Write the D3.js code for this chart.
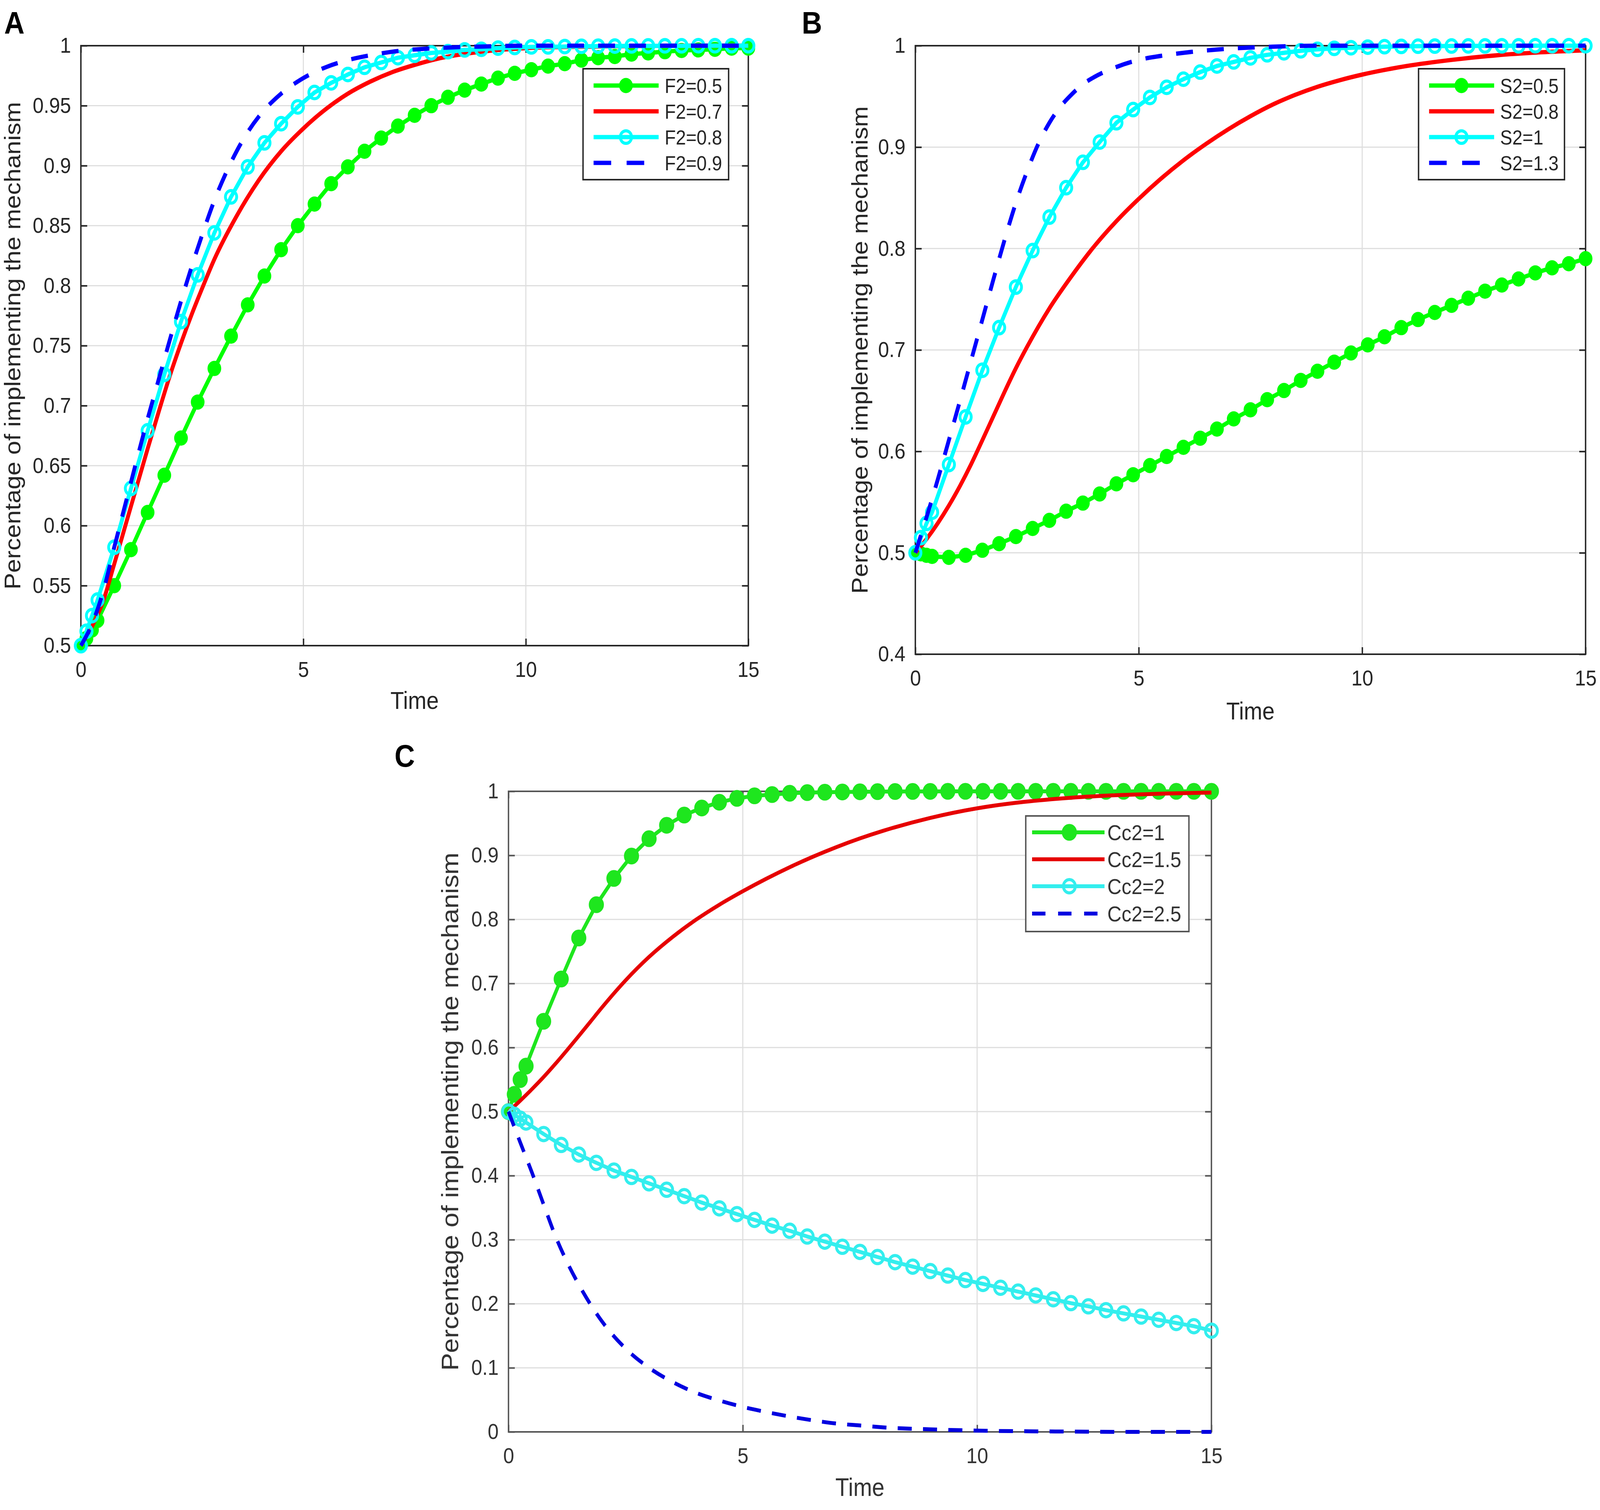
<!DOCTYPE html>
<html>
<head>
<meta charset="utf-8">
<script src="https://cdn.jsdelivr.net/npm/d3@7"></script>
<style>
  html, body { margin: 0; padding: 0; background: #fff; overflow: hidden; }
  svg { display: block; width: 100vw; height: 100vh; }
</style>
</head>
<body>
<svg id="fig" viewBox="0 0 4550 3866" preserveAspectRatio="none"></svg>
<script>
// ---- data ----
const xTicks = [0, 5, 10, 15]
const yTicksA = [0.5, 0.55, 0.6, 0.65, 0.7, 0.75, 0.8, 0.85, 0.9, 0.95, 1]
const yTicksB = [0.4, 0.5, 0.6, 0.7, 0.8, 0.9, 1]
const yTicksC = [0, 0.1, 0.2, 0.3, 0.4, 0.5, 0.6, 0.7, 0.8, 0.9, 1]

// time steps of the marker series
const tMark = [0, 0.125, 0.25, 0.375, 0.75, 1.125, 1.5, 1.875, 2.25, 2.625, 3,
  3.375, 3.75, 4.125, 4.5, 4.875, 5.25, 5.625, 6,
  6.375, 6.75, 7.125, 7.5, 7.875, 8.25, 8.625, 9,
  9.375, 9.75, 10.125, 10.5, 10.875, 11.25, 11.625, 12,
  12.375, 12.75, 13.125, 13.5, 13.875, 14.25, 14.625, 15]

// panel A
const labelsA = ['F2=0.5', 'F2=0.7', 'F2=0.8', 'F2=0.9']
const greenA = [0.5, 0.506, 0.513, 0.521, 0.55, 0.58, 0.611, 0.642, 0.673, 0.703, 0.731,
  0.758, 0.784, 0.808, 0.83, 0.85, 0.868, 0.885, 0.899,
  0.912, 0.923, 0.933, 0.942, 0.95, 0.957, 0.963, 0.968,
  0.973, 0.977, 0.98, 0.983, 0.985, 0.988, 0.99, 0.991,
  0.993, 0.994, 0.995, 0.996, 0.9965, 0.997, 0.998, 0.998]
const tRedA = [0, 0.25, 0.5, 0.75, 1, 1.25, 1.5, 1.75, 2, 2.25, 2.5, 2.75, 3,
  3.5, 4, 4.5, 5, 5.5, 6, 6.5, 7, 7.5, 8, 9, 10, 11, 12, 13.5, 15]
const redA = [0.5, 0.516, 0.537, 0.568, 0.6, 0.632, 0.664, 0.695, 0.725, 0.752, 0.777, 0.8, 0.822,
  0.858, 0.888, 0.912, 0.931, 0.947, 0.96, 0.97, 0.978, 0.984, 0.989, 0.995, 0.998, 0.999, 0.9995, 1, 1]
const cyanA = [0.5, 0.512, 0.525, 0.538, 0.582, 0.631, 0.679, 0.726, 0.77, 0.809, 0.844,
  0.874, 0.899, 0.919, 0.935, 0.949, 0.961, 0.969, 0.976,
  0.982, 0.986, 0.99, 0.992, 0.994, 0.995, 0.9965, 0.997,
  0.998, 0.9985, 0.999, 0.999, 0.9993, 0.9995, 0.9996, 0.9997,
  0.9998, 0.9998, 0.9999, 0.9999, 1, 1, 1, 1]
const tBlueA = [0, 0.25, 0.5, 0.75, 1, 1.25, 1.5, 1.75, 2, 2.25, 2.5, 2.75, 3,
  3.25, 3.5, 3.75, 4, 4.5, 5, 5.5, 6, 6.5, 7, 8, 9, 10, 15]
const blueA = [0.5, 0.518, 0.545, 0.582, 0.618, 0.654, 0.689, 0.722, 0.755, 0.787, 0.817, 0.845, 0.871,
  0.893, 0.912, 0.928, 0.941, 0.96, 0.973, 0.982, 0.988, 0.992, 0.995, 0.998, 0.9993, 1, 1]

// panel B
const labelsB = ['S2=0.5', 'S2=0.8', 'S2=1', 'S2=1.3']
const greenB = [0.5, 0.499, 0.4975, 0.4965, 0.4955, 0.4975, 0.5025, 0.509, 0.516, 0.524, 0.532,
  0.541, 0.549, 0.558, 0.568, 0.577, 0.586, 0.595, 0.604,
  0.613, 0.622, 0.632, 0.641, 0.651, 0.66, 0.67, 0.679,
  0.688, 0.697, 0.705, 0.713, 0.722, 0.73, 0.737, 0.744,
  0.751, 0.758, 0.764, 0.77, 0.776, 0.781, 0.785, 0.79]
const tRedB = [0, 0.25, 0.5, 0.75, 1, 1.25, 1.5, 1.75, 2, 2.25, 2.5,
  3, 3.5, 4, 4.5, 5, 5.5, 6, 6.5, 7, 7.5, 8,
  8.5, 9, 9.5, 10, 11, 12, 13, 14, 15]
const redB = [0.5, 0.5135, 0.529, 0.5465, 0.566, 0.5875, 0.611, 0.635, 0.659, 0.682, 0.703,
  0.741, 0.773, 0.802, 0.827, 0.849, 0.869, 0.887, 0.903, 0.9175, 0.9305, 0.942,
  0.9515, 0.9595, 0.966, 0.9715, 0.98, 0.986, 0.9905, 0.9935, 0.9955]
const cyanB = [0.5, 0.515, 0.529, 0.54, 0.587, 0.634, 0.68, 0.722, 0.762, 0.798, 0.831,
  0.86, 0.885, 0.905, 0.924, 0.937, 0.949, 0.959, 0.967,
  0.974, 0.98, 0.984, 0.988, 0.991, 0.993, 0.995, 0.9964,
  0.9974, 0.998, 0.9986, 0.999, 0.9993, 0.9995, 0.9996, 0.9997,
  0.9998, 0.9998, 0.9999, 0.9999, 1, 1, 1, 1]
const tBlueB = [0, 0.25, 0.5, 0.75, 1, 1.25, 1.5, 1.75, 2, 2.25, 2.5, 2.75, 3,
  3.25, 3.5, 3.75, 4, 4.5, 5, 5.5, 6, 7, 8, 9, 15]
const blueB = [0.5, 0.535, 0.572, 0.611, 0.65, 0.69, 0.73, 0.77, 0.809, 0.845, 0.876, 0.903, 0.924,
  0.94, 0.952, 0.962, 0.969, 0.979, 0.986, 0.99, 0.993, 0.997, 0.999, 1, 1]

// panel C
const labelsC = ['Cc2=1', 'Cc2=1.5', 'Cc2=2', 'Cc2=2.5']
const greenC = [0.5, 0.527, 0.55, 0.571, 0.641, 0.707, 0.771, 0.823, 0.864, 0.899, 0.926,
  0.947, 0.963, 0.974, 0.983, 0.989, 0.993, 0.995, 0.997,
  0.998, 0.9986, 0.999, 0.9993, 0.9995, 0.9997, 0.9998, 0.9999,
  1, 1, 1, 1, 1, 1, 1, 1,
  1, 1, 1, 1, 1, 1, 1, 1]
const tRedC = [0, 0.25, 0.5, 0.75, 1, 1.25, 1.5, 1.75, 2,
  2.5, 3, 3.5, 4, 4.5, 5, 5.5, 6, 6.5, 7, 7.5, 8,
  9, 10, 11, 12, 13, 14, 15]
const redC = [0.5, 0.517, 0.535, 0.554, 0.5745, 0.596, 0.618, 0.6405, 0.663,
  0.705, 0.7415, 0.7725, 0.7995, 0.823, 0.844, 0.8635, 0.8815, 0.898, 0.913, 0.9265, 0.9385,
  0.9585, 0.9735, 0.9835, 0.99, 0.994, 0.9965, 0.998]
const cyanC = [0.5, 0.495, 0.489, 0.483, 0.465, 0.448, 0.433, 0.42, 0.408, 0.398, 0.388,
  0.378, 0.368, 0.358, 0.349, 0.34, 0.331, 0.322, 0.314,
  0.305, 0.297, 0.289, 0.281, 0.273, 0.265, 0.258, 0.251,
  0.244, 0.237, 0.231, 0.225, 0.219, 0.213, 0.207, 0.201,
  0.196, 0.19, 0.185, 0.18, 0.175, 0.17, 0.165, 0.158]
const tBlueC = [0, 0.25, 0.5, 0.75, 1, 1.25, 1.5, 1.75, 2, 2.5, 3, 3.5, 4, 4.5, 5,
  5.5, 6, 6.5, 7, 7.5, 8, 9, 10, 11, 12, 13, 15]
const blueC = [0.5, 0.452, 0.405, 0.355, 0.306, 0.265, 0.23, 0.199, 0.172, 0.13, 0.1, 0.078, 0.061, 0.049, 0.039,
  0.031, 0.024, 0.018, 0.013, 0.01, 0.007, 0.004, 0.002, 0.001, 0.0005, 0, 0]

// ---- layout / style ----
const FONT = '"Liberation Sans", Arial, Helvetica, sans-serif'
const GREEN = '#00ff00', RED = '#ff0000', CYAN = '#00ffff', BLUE = '#0000ff'

const zip = (t, v) => t.map((d, i) => ({ t: d, v: v[i] }))

const panels = [
  {
    letter: 'A', letterX: 12, letterY: 86,
    left: 230, top: 117, right: 2128, bottom: 1653,
    yDomain: [0.5, 1], yTicks: yTicksA,
    ylabelX: 58, timeY: 1815, ylabelSize: 64, timeSize: 63,
    axisColor: '#262626', textColor: '#262626',
    lineW: 11, dotR: 18, ringR: 16,
    series: [
      { data: zip(tMark, greenA), color: GREEN, marker: 'dot' },
      { data: zip(tRedA, redA), color: RED, smooth: true },
      { data: zip(tMark, cyanA), color: CYAN, marker: 'ring' },
      { data: zip(tBlueA, blueA), color: BLUE, smooth: true, dash: '48,40' }
    ],
    labels: labelsA,
    legend: { x: 1658, y: 176, w: 414, h: 284, rows: [43, 109, 175, 241], l1: 30, l2: 215, m: 122, tx: 232, dash: '50,44', font: 52 }
  },
  {
    letter: 'B', letterX: 2280, letterY: 86,
    left: 2603, top: 117, right: 4509, bottom: 1675,
    yDomain: [0.4, 1], yTicks: yTicksB,
    ylabelX: 2467, timeY: 1842, ylabelSize: 64, timeSize: 63,
    axisColor: '#262626', textColor: '#262626',
    lineW: 11, dotR: 18, ringR: 16,
    series: [
      { data: zip(tMark, greenB), color: GREEN, marker: 'dot' },
      { data: zip(tRedB, redB), color: RED, smooth: true },
      { data: zip(tMark, cyanB), color: CYAN, marker: 'ring' },
      { data: zip(tBlueB, blueB), color: BLUE, smooth: true, dash: '48,40' }
    ],
    labels: labelsB,
    legend: { x: 4034, y: 176, w: 415, h: 284, rows: [43, 109, 175, 241], l1: 30, l2: 215, m: 122, tx: 232, dash: '50,44', font: 52 }
  },
  {
    letter: 'C', letterX: 1122, letterY: 1963,
    left: 1446, top: 2026, right: 3445, bottom: 3666,
    yDomain: [0, 1], yTicks: yTicksC,
    ylabelX: 1303, timeY: 3830, ylabelSize: 68, timeSize: 64,
    axisColor: '#555555', textColor: '#333333',
    lineW: 10, dotR: 20, ringR: 17,
    series: [
      { data: zip(tMark, greenC), color: '#1ee61e', marker: 'dot' },
      { data: zip(tRedC, redC), color: '#e60000', smooth: true },
      { data: zip(tMark, cyanC), color: '#33eeee', marker: 'ring' },
      { data: zip(tBlueC, blueC), color: '#0000e0', smooth: true, dash: '40,32' }
    ],
    labels: labelsC,
    legend: { x: 2917, y: 2089, w: 464, h: 296, rows: [42, 111, 180, 250], l1: 18, l2: 224, m: 124, tx: 232, dash: '38,36', font: 56 }
  }
]

const svg = d3.select('#fig')

function drawMarker (sel, kind, color, p) {
  sel.attr('r', kind === 'dot' ? p.dotR : p.ringR)
    .attr('fill', kind === 'dot' ? color : 'none')
    .attr('stroke', color)
    .attr('stroke-width', kind === 'dot' ? 3 : 8)
}

function drawPanel (p) {
  const g = svg.append('g')
  const x = d3.scaleLinear().domain([0, 15]).range([p.left, p.right])
  const y = d3.scaleLinear().domain(p.yDomain).range([p.bottom, p.top])

  // grid
  g.append('g').selectAll('line').data(xTicks.slice(1, -1)).join('line')
    .attr('x1', d => x(d)).attr('x2', d => x(d))
    .attr('y1', p.top).attr('y2', p.bottom)
    .attr('stroke', '#dedede').attr('stroke-width', 3)
  g.append('g').selectAll('line').data(p.yTicks.slice(1, -1)).join('line')
    .attr('x1', p.left).attr('x2', p.right)
    .attr('y1', d => y(d)).attr('y2', d => y(d))
    .attr('stroke', '#dedede').attr('stroke-width', 3)

  // axes with inward ticks on all four sides
  const fmt = d => d3.format('~g')(d)
  const styleAxis = (sel) => {
    sel.select('.domain').remove()
    sel.selectAll('.tick line').attr('stroke', p.axisColor).attr('stroke-width', 4)
    sel.selectAll('.tick text').attr('fill', p.textColor)
      .style('font-family', FONT).style('font-size', '56px')
  }
  g.append('g').attr('transform', `translate(0,${p.bottom})`)
    .call(d3.axisBottom(x).tickValues(xTicks).tickFormat(fmt).tickSizeInner(-18).tickSizeOuter(0).tickPadding(40))
    .call(styleAxis)
  g.append('g').attr('transform', `translate(0,${p.top})`)
    .call(d3.axisTop(x).tickValues(xTicks).tickFormat('').tickSizeInner(-18).tickSizeOuter(0))
    .call(styleAxis)
  g.append('g').attr('transform', `translate(${p.left},0)`)
    .call(d3.axisLeft(y).tickValues(p.yTicks).tickFormat(fmt).tickSizeInner(-18).tickSizeOuter(0).tickPadding(28))
    .call(styleAxis)
  g.append('g').attr('transform', `translate(${p.right},0)`)
    .call(d3.axisRight(y).tickValues(p.yTicks).tickFormat('').tickSizeInner(-18).tickSizeOuter(0))
    .call(styleAxis)

  g.append('rect')
    .attr('x', p.left).attr('y', p.top)
    .attr('width', p.right - p.left).attr('height', p.bottom - p.top)
    .attr('fill', 'none').attr('stroke', p.axisColor).attr('stroke-width', 4)

  // series
  p.series.forEach(s => {
    const line = d3.line().x(d => x(d.t)).y(d => y(d.v))
      .curve(s.smooth ? d3.curveMonotoneX : d3.curveLinear)
    g.append('path').datum(s.data)
      .attr('d', line)
      .attr('fill', 'none')
      .attr('stroke', s.color)
      .attr('stroke-width', p.lineW)
      .attr('stroke-linejoin', 'round')
      .attr('stroke-dasharray', s.dash || null)
    if (s.marker) {
      g.append('g').selectAll('circle').data(s.data).join('circle')
        .attr('cx', d => x(d.t)).attr('cy', d => y(d.v))
        .call(drawMarker, s.marker, s.color, p)
    }
  })

  // axis labels
  g.append('text')
    .attr('x', (p.left + p.right) / 2).attr('y', p.timeY)
    .attr('text-anchor', 'middle')
    .attr('fill', p.textColor)
    .style('font-family', FONT).style('font-size', p.timeSize + 'px')
    .text('Time')
  g.append('text')
    .attr('transform', `translate(${p.ylabelX},${(p.top + p.bottom) / 2}) rotate(-90)`)
    .attr('text-anchor', 'middle')
    .attr('fill', p.textColor)
    .style('font-family', FONT).style('font-size', p.ylabelSize + 'px')
    .text('Percentage of implementing the mechanism')

  // panel letter
  svg.append('text')
    .attr('x', p.letterX).attr('y', p.letterY)
    .attr('fill', '#000')
    .style('font-family', FONT).style('font-size', '80px').style('font-weight', 'bold')
    .text(p.letter)

  // legend
  const L = p.legend
  const lg = g.append('g')
  lg.append('rect')
    .attr('x', L.x).attr('y', L.y).attr('width', L.w).attr('height', L.h)
    .attr('fill', '#fff').attr('stroke', p.axisColor).attr('stroke-width', 4)
  p.series.forEach((s, i) => {
    const ry = L.y + L.rows[i]
    lg.append('line')
      .attr('x1', L.x + L.l1).attr('x2', L.x + L.l2)
      .attr('y1', ry).attr('y2', ry)
      .attr('stroke', s.color).attr('stroke-width', p.lineW)
      .attr('stroke-dasharray', s.dash ? L.dash : null)
    if (s.marker) {
      lg.append('circle')
        .attr('cx', L.x + L.m).attr('cy', ry)
        .call(drawMarker, s.marker, s.color, p)
    }
    lg.append('text')
      .attr('x', L.x + L.tx).attr('y', ry + L.font * 0.36)
      .attr('fill', p.textColor)
      .style('font-family', FONT).style('font-size', L.font + 'px')
      .text(p.labels[i])
  })
}

panels.forEach(drawPanel)
</script>
</body>
</html>
